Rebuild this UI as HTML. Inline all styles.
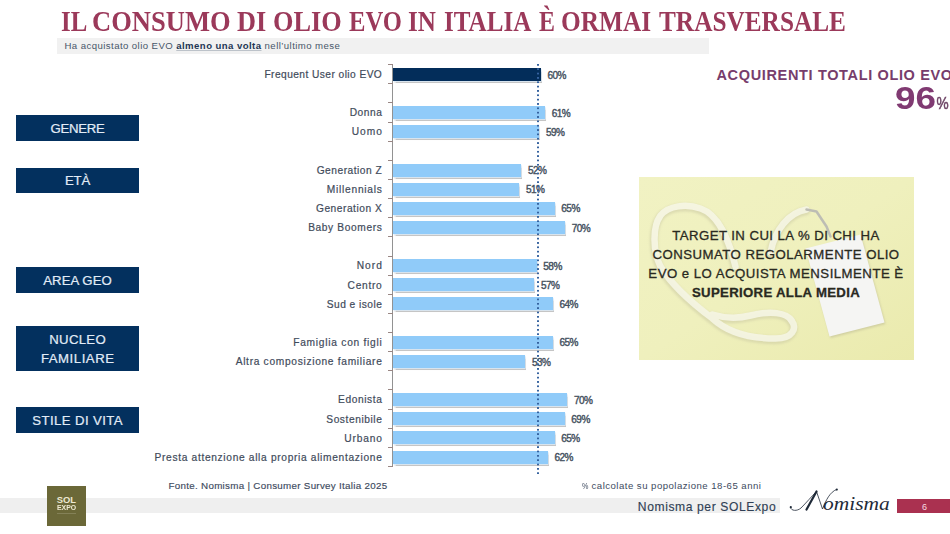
<!DOCTYPE html>
<html><head><meta charset="utf-8">
<style>
*{margin:0;padding:0;box-sizing:border-box}
html,body{width:950px;height:534px;overflow:hidden;background:#fff}
body{position:relative;font-family:"Liberation Sans",sans-serif;color:#3d4a5a}
.tw{position:absolute;top:5.41px;font-family:"Liberation Serif",serif;font-weight:700;font-size:28.4px;color:#9b395a;white-space:nowrap;line-height:34px;transform-origin:0 0}
#subband{position:absolute;left:57.3px;top:38px;width:651.7px;height:16.3px;background:#f1f1f1}
#sub{position:absolute;left:64.5px;top:39.27px;font-size:9.6px;letter-spacing:0.43px;white-space:nowrap;color:#475669;line-height:14px}
#sub b{color:#1e3654;text-decoration:underline;text-decoration-color:rgba(30,54,84,.25);text-decoration-thickness:1px;text-underline-offset:0.5px}
.box{position:absolute;left:15.6px;width:123.8px;background:#03305e;color:#e2ecf7;text-align:center;font-size:13.2px;-webkit-text-stroke:0.2px #e2ecf7}
.axis{position:absolute;left:392px;top:64.5px;width:1px;height:402.5px;background:#929292}
.tick{position:absolute;left:388px;width:5px;height:1px;background:#9a8784}
.bar{position:absolute;left:393px;height:13px;background:#90cbf9;box-shadow:0.6px 0.8px 0 #dcecf8,1.4px 2.2px 1px rgba(140,140,140,.5)}
.bar.navy{background:#032d5a}
.lab{position:absolute;font-size:10.2px;line-height:12px;white-space:nowrap;color:#3f4b5b;-webkit-text-stroke:0.2px #3f4b5b}
.val{position:absolute;font-size:10px;letter-spacing:-0.5px;line-height:12px;white-space:nowrap;color:#46525f;-webkit-text-stroke:0.4px #46525f}
.dot{position:absolute;left:536.7px;top:64px;width:2px;height:410px;background:radial-gradient(circle at 1px 1px,#35629f 0,#35629f 0.9px,rgba(53,98,159,0) 1.25px);background-size:2px 4.35px}
#acq{position:absolute;left:716.5px;top:65.68px;font-weight:700;font-size:14.5px;letter-spacing:0.65px;color:#773d6c;white-space:nowrap;line-height:18px}
#pct{position:absolute;left:895px;top:80.11px;font-weight:700;font-size:32px;color:#803a72;white-space:nowrap;line-height:36px;transform-origin:0 0;transform:scaleX(1.15)}
#pct small{font-size:16.5px;font-weight:400;color:#6e4566;-webkit-text-stroke:0.5px #6e4566;display:inline-block;transform:scaleX(0.72);transform-origin:0 0;margin-left:0.5px}
#panel{position:absolute;left:638.5px;top:176.5px;width:275px;height:183px;background:#eeeeba;overflow:hidden}
.pl{position:absolute;left:0;width:275px;text-align:center;font-size:13.2px;line-height:16px;color:#29291f;white-space:nowrap;-webkit-text-stroke:0.3px #29291f}
#fonte{position:absolute;left:168.5px;top:479.60px;font-size:9.8px;letter-spacing:0.29px;color:#3d4a5e;white-space:nowrap;line-height:12px;-webkit-text-stroke:0.15px #3d4a5e}
#calc{position:absolute;left:581.8px;top:480.07px;font-size:9.6px;letter-spacing:0.48px;color:#3d4a5e;white-space:nowrap;line-height:12px}
#band{position:absolute;left:0;top:498.4px;width:779.6px;height:14.5px;background:#efefef}
#nps{position:absolute;left:637.8px;top:499.41px;font-size:12.1px;letter-spacing:0.6px;color:#2f3f55;-webkit-text-stroke:0.15px #2f3f55;white-space:nowrap;line-height:16px}
#sol{position:absolute;left:47.3px;top:486px;width:39.2px;height:39.6px;background:#6b6838;color:#ede9d2}
#page{position:absolute;left:897px;top:498.5px;width:53px;height:14.5px;background:#aa3150;color:#f7dbe2;font-size:9px;line-height:14.5px;text-align:center;padding-left:2px;padding-top:1.6px}
</style></head><body>
<span class="tw" style="left:60.90px;transform:scaleX(0.8746)">IL</span><span class="tw" style="left:92.20px;transform:scaleX(0.9347)">CONSUMO</span><span class="tw" style="left:237.42px;transform:scaleX(0.9270)">DI</span><span class="tw" style="left:272.81px;transform:scaleX(0.9271)">OLIO</span><span class="tw" style="left:348.55px;transform:scaleX(0.8670)">EVO</span><span class="tw" style="left:408.49px;transform:scaleX(0.8838)">IN</span><span class="tw" style="left:444.39px;transform:scaleX(0.8828)">ITALIA</span><span class="tw" style="left:539.27px;transform:scaleX(0.8423)">È</span><span class="tw" style="left:561.05px;transform:scaleX(0.8939)">ORMAI</span><span class="tw" style="left:659.04px;transform:scaleX(0.8910)">TRASVERSALE</span>
<div id="subband"></div>
<div id="sub">Ha acquistato olio EVO <b>almeno una volta</b> nell’ultimo mese</div>
<div class="box" style="top:114.8px;height:25.8px"><div style="position:absolute;left:0;right:0;top:6.83px;line-height:14px;letter-spacing:-0.25px;padding-left:-0.25px">GENERE</div></div>
<div class="box" style="top:167.5px;height:25.6px"><div style="position:absolute;left:0;right:0;top:6.83px;line-height:14px;letter-spacing:-0.25px;padding-left:-0.25px">ETÀ</div></div>
<div class="box" style="top:266.8px;height:25.8px"><div style="position:absolute;left:0;right:0;top:6.83px;line-height:14px;letter-spacing:0.05px;padding-left:0.05px">AREA GEO</div></div>
<div class="box" style="top:326.3px;height:44.8px"><div style="position:absolute;left:0;right:0;top:6.83px;line-height:14px;letter-spacing:0.3px;padding-left:0.3px">NUCLEO</div><div style="position:absolute;left:0;right:0;top:25.83px;line-height:14px;letter-spacing:0.53px;padding-left:0.53px">FAMILIARE</div></div>
<div class="box" style="top:406.8px;height:25.8px"><div style="position:absolute;left:0;right:0;top:7.13px;line-height:14px;letter-spacing:0.4px;padding-left:0.4px">STILE DI VITA</div></div>
<div class="axis"></div>
<div class="tick" style="top:64.10px"></div>
<div class="tick" style="top:83.24px"></div>
<div class="tick" style="top:102.38px"></div>
<div class="tick" style="top:121.52px"></div>
<div class="tick" style="top:140.66px"></div>
<div class="tick" style="top:159.80px"></div>
<div class="tick" style="top:178.94px"></div>
<div class="tick" style="top:198.08px"></div>
<div class="tick" style="top:217.22px"></div>
<div class="tick" style="top:236.36px"></div>
<div class="tick" style="top:255.50px"></div>
<div class="tick" style="top:274.64px"></div>
<div class="tick" style="top:293.78px"></div>
<div class="tick" style="top:312.92px"></div>
<div class="tick" style="top:332.06px"></div>
<div class="tick" style="top:351.20px"></div>
<div class="tick" style="top:370.34px"></div>
<div class="tick" style="top:389.48px"></div>
<div class="tick" style="top:408.62px"></div>
<div class="tick" style="top:427.76px"></div>
<div class="tick" style="top:446.90px"></div>
<div class="tick" style="top:466.04px"></div>
<div class="bar navy" style="top:67.80px;width:147.7px"></div>
<div class="lab" style="top:69.04px;right:567.76px;letter-spacing:0.438px">Frequent User olio EVO</div>
<div class="val" style="top:69.50px;left:547.4px">60%</div>
<div class="bar" style="top:106.08px;width:152.0px"></div>
<div class="lab" style="top:107.32px;right:567.66px;letter-spacing:0.537px">Donna</div>
<div class="val" style="top:107.78px;left:551.7px">61%</div>
<div class="bar" style="top:125.22px;width:146.2px"></div>
<div class="lab" style="top:126.46px;right:567.20px;letter-spacing:1.0px">Uomo</div>
<div class="val" style="top:126.93px;left:545.9px">59%</div>
<div class="bar" style="top:163.50px;width:128.2px"></div>
<div class="lab" style="top:164.74px;right:567.69px;letter-spacing:0.514px">Generation Z</div>
<div class="val" style="top:165.21px;left:527.9px">52%</div>
<div class="bar" style="top:182.64px;width:126.3px"></div>
<div class="lab" style="top:183.88px;right:567.46px;letter-spacing:0.74px">Millennials</div>
<div class="val" style="top:184.34px;left:526.0px">51%</div>
<div class="bar" style="top:201.78px;width:161.6px"></div>
<div class="lab" style="top:203.02px;right:567.67px;letter-spacing:0.532px">Generation X</div>
<div class="val" style="top:203.49px;left:561.3px">65%</div>
<div class="bar" style="top:220.92px;width:172.0px"></div>
<div class="lab" style="top:222.16px;right:567.58px;letter-spacing:0.623px">Baby Boomers</div>
<div class="val" style="top:222.62px;left:571.7px">70%</div>
<div class="bar" style="top:259.20px;width:143.6px"></div>
<div class="lab" style="top:260.44px;right:567.20px;letter-spacing:1.0px">Nord</div>
<div class="val" style="top:260.91px;left:543.3px">58%</div>
<div class="bar" style="top:278.34px;width:141.2px"></div>
<div class="lab" style="top:279.58px;right:567.47px;letter-spacing:0.73px">Centro</div>
<div class="val" style="top:280.05px;left:540.9px">57%</div>
<div class="bar" style="top:297.48px;width:159.8px"></div>
<div class="lab" style="top:298.72px;right:567.74px;letter-spacing:0.46px">Sud e isole</div>
<div class="val" style="top:299.19px;left:559.5px">64%</div>
<div class="bar" style="top:335.76px;width:159.8px"></div>
<div class="lab" style="top:337.00px;right:567.45px;letter-spacing:0.747px">Famiglia con figli</div>
<div class="val" style="top:337.47px;left:559.5px">65%</div>
<div class="bar" style="top:354.90px;width:132.2px"></div>
<div class="lab" style="top:356.14px;right:567.51px;letter-spacing:0.694px">Altra composizione familiare</div>
<div class="val" style="top:356.61px;left:531.9px">53%</div>
<div class="bar" style="top:393.18px;width:174.2px"></div>
<div class="lab" style="top:394.42px;right:567.61px;letter-spacing:0.586px">Edonista</div>
<div class="val" style="top:394.89px;left:573.9px">70%</div>
<div class="bar" style="top:412.32px;width:171.6px"></div>
<div class="lab" style="top:413.56px;right:567.63px;letter-spacing:0.57px">Sostenibile</div>
<div class="val" style="top:414.03px;left:571.3px">69%</div>
<div class="bar" style="top:431.46px;width:161.5px"></div>
<div class="lab" style="top:432.70px;right:567.37px;letter-spacing:0.83px">Urbano</div>
<div class="val" style="top:433.17px;left:561.2px">65%</div>
<div class="bar" style="top:450.60px;width:154.7px"></div>
<div class="lab" style="top:451.84px;right:567.52px;letter-spacing:0.676px">Presta attenzione alla propria alimentazione</div>
<div class="val" style="top:452.31px;left:554.4px">62%</div>
<div class="dot"></div>
<div id="acq">ACQUIRENTI TOTALI OLIO EVO</div>
<div id="pct">96<small>%</small></div>
<div id="panel">
<svg width="275" height="183" viewBox="638.5 176.5 275 183" style="position:absolute;left:0;top:0">
<defs>
<linearGradient id="pg" x1="0" y1="0" x2="1" y2="1"><stop offset="0" stop-color="#f1f2c3"/><stop offset="0.5" stop-color="#eff0bd"/><stop offset="1" stop-color="#eaeaad"/></linearGradient>
<filter id="sh" x="-20%" y="-20%" width="140%" height="140%"><feGaussianBlur stdDeviation="1.3"/></filter>
</defs>
<rect x="638.5" y="176.5" width="275" height="183" fill="url(#pg)"/>
<g fill="none" stroke-linecap="round" stroke-linejoin="round">
<g stroke="#c9c7a2" stroke-width="8.5" opacity=".5" filter="url(#sh)" transform="translate(-0.5,1.5)">
<path d="M735 266 C728 238 718 214 700 208 C686 203 668 205 660 215 C652 226 652 250 660 266 C672 286 696 306 712 318 C725 330 745 338 775 338 C792 338 797 328 791 320"/>
<path d="M791 320 C786 312 770 310 750 315 C738 318 725 318 712 314"/>
<path d="M770 252 C774 230 788 212 806 209"/>
</g>
<g stroke="#f6f6e4" stroke-width="6.5" opacity=".92">
<path d="M735 266 C728 238 718 214 700 208 C686 203 668 205 660 215 C652 226 652 250 660 266 C672 286 696 306 712 318 C725 330 745 338 775 338 C792 338 797 328 791 320"/>
<path d="M791 320 C786 312 770 310 750 315 C738 318 725 318 712 314"/>
<path d="M770 252 C774 230 788 212 806 209"/>
</g>
<path d="M806 209 L816 211 L826 226 L830 236" stroke="#bdbdb4" stroke-width="2.5"/>
</g>
<polygon points="805,248 860,234 884,322 829,336" fill="#b9b792" opacity=".55" filter="url(#sh)" transform="translate(1,1.5)"/>
<polygon points="805,248 860,234 884,322 829,336" fill="#f5f5f3"/>
</svg>
<div class="pl" style="top:51.83px;letter-spacing:0.44px">TARGET IN CUI LA % DI CHI HA</div>
<div class="pl" style="top:70.63px;letter-spacing:0.49px">CONSUMATO REGOLARMENTE OLIO</div>
<div class="pl" style="top:89.53px;letter-spacing:0.49px">EVO e LO ACQUISTA MENSILMENTE È</div>
<div class="pl" style="top:108.33px;letter-spacing:0.32px;font-weight:700">SUPERIORE ALLA MEDIA</div>
</div>
<div id="fonte">Fonte. Nomisma | Consumer Survey Italia 2025</div>
<div id="calc"><span style="display:inline-block;transform:scaleX(0.75);transform-origin:0 0;width:6.6px">%</span> calcolate su popolazione 18-65 anni</div>
<div id="band"></div>
<div id="nps">Nomisma per SOLExpo</div>
<div id="sol">
<div style="position:absolute;left:9.4px;top:9.4px;font-weight:700;font-size:9.4px;line-height:10px;white-space:nowrap">SOL</div>
<div style="position:absolute;left:9.3px;top:18.3px;font-weight:700;font-size:8px;line-height:8px;white-space:nowrap;transform:scaleX(0.86);transform-origin:0 0">EXPO</div>
<div style="position:absolute;left:9.7px;top:26.8px;width:18.8px;height:0.6px;background:#848157"></div>
</div>
<svg width="110" height="32" viewBox="785 484 110 32" style="position:absolute;left:785px;top:484px;overflow:visible">
<g fill="none" stroke="#1f2a38" stroke-linecap="round">
<path d="M790.5 507.5 C791 511 797 511.5 801 508 C806 503 812 496 816.5 491.5" stroke-width="0.8"/>
<path d="M806.5 509.5 L816.5 491.5" stroke-width="2.2"/>
<path d="M816.5 491.5 L822.5 509 C826 500 830 492 836.5 489.5" stroke-width="0.8"/>
</g>
<circle cx="790.8" cy="507.2" r="1.1" fill="#1f2a38"/>
<circle cx="836.8" cy="489.6" r="1.1" fill="#1f2a38"/>
<text x="823" y="510" font-family="Liberation Serif" font-style="italic" font-size="18.5" fill="#1f2a38" transform="translate(823 0) scale(1.16 1) translate(-823 0)">omisma</text>
</svg>
<div id="page">6</div>
</body></html>
